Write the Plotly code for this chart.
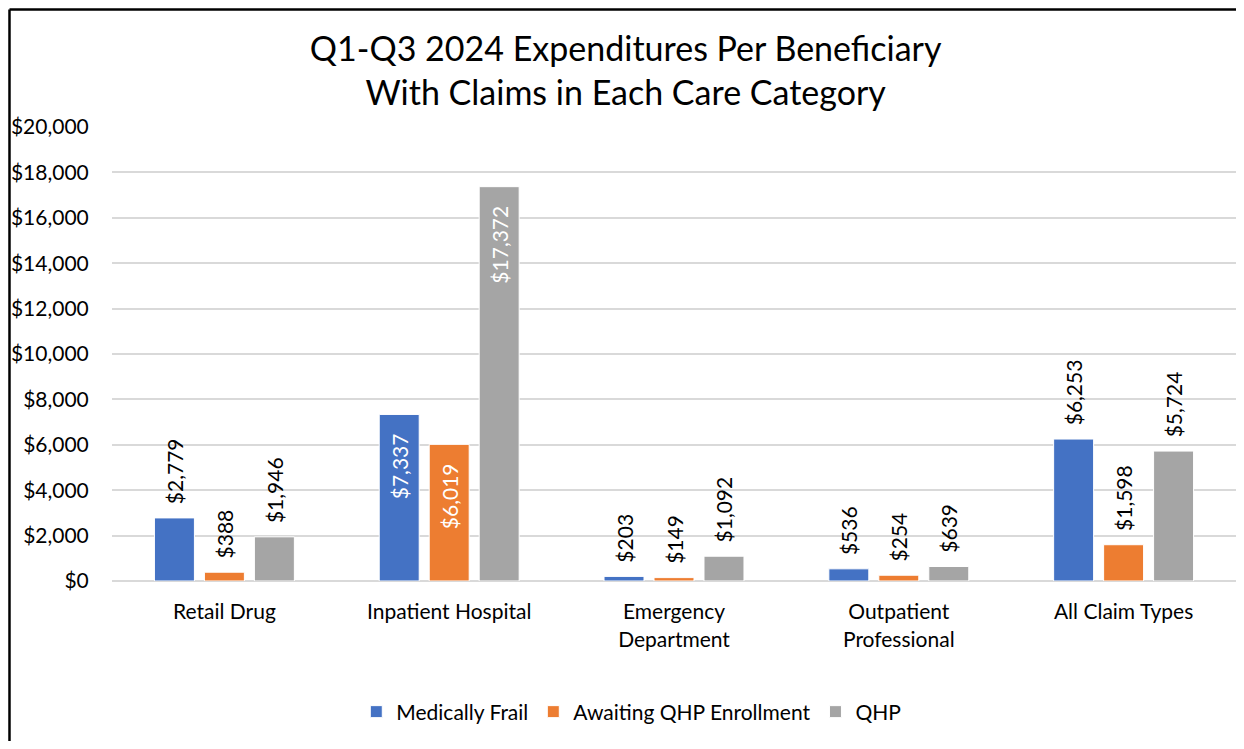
import plotly.graph_objects as go

# ── Data ──────────────────────────────────────────────────────────────────────
categories = ["Retail Drug", "Inpatient Hospital", "Emergency<br>Department",
              "Outpatient<br>Professional", "All Claim Types"]

medically_frail = [2779, 7337, 203, 536, 6253]
awaiting_qhp    = [388, 6019, 149, 254, 1598]
qhp             = [1946, 17372, 1092, 639, 5724]

series_names = ["Medically Frail", "Awaiting QHP Enrollment", "QHP"]
y_ticks = [0, 2000, 4000, 6000, 8000, 10000, 12000, 14000, 16000, 18000, 20000]
y_tick_labels = [f"${v:,}" for v in y_ticks]

# ── Style ─────────────────────────────────────────────────────────────────────
COLOURS = ["#4472C4", "#ED7D31", "#A5A5A5"]
FONT = "Lato, Carlito, Calibri, sans-serif"
GRID = "#d9d9d9"
FS = 21
NBSP = "\u00a0"

# plot-area margins (page body adds ~8px around the figure)
L, R, T, B = 104, 0, 119, 160

fig = go.Figure()

for name, vals, col in zip(series_names, [medically_frail, awaiting_qhp, qhp], COLOURS):
    # Inpatient Hospital bars carry their labels inside, in white
    inside = [c == "Inpatient Hospital" for c in categories]
    labels = [f"${v:,}" + NBSP * 3 if ins else NBSP * 2 + f"${v:,}"
              for v, ins in zip(vals, inside)]
    fig.add_trace(go.Bar(
        name=name,
        x=categories,
        y=vals,
        marker=dict(color=col, line=dict(color="white", width=1)),
        text=labels,
        textposition=["inside" if ins else "outside" for ins in inside],
        textangle=-90,
        insidetextanchor="end",
        insidetextfont=dict(color="white", size=FS, family=FONT),
        outsidetextfont=dict(color="black", size=FS, family=FONT),
        constraintext="none",
        cliponaxis=False,
    ))

# chart frame (left + top edge, like the pasted Excel object)
fig.add_shape(type="line", xref="paper", yref="paper",
              x0=-0.0912, x1=-0.0912, y0=-0.40, y1=1.2588,
              line=dict(color="black", width=2.5))
fig.add_shape(type="line", xref="paper", yref="paper",
              x0=-0.0912, x1=1.01, y0=1.2588, y1=1.2588,
              line=dict(color="black", width=2.5))

fig.update_layout(
    title=dict(
        text="Q1-Q3 2024 Expenditures Per Beneficiary<br>With Claims in Each Care Category",
        x=0.503, xanchor="center", y=0.928, yanchor="middle",
        font=dict(size=34, family=FONT, color="black"),
    ),
    barmode="group",
    bargap=0.333,
    bargroupgap=0.2,
    xaxis=dict(
        showgrid=False,
        showline=False,
        ticks="outside",
        ticklen=12,
        tickcolor="white",
        tickfont=dict(size=FS, family=FONT, color="black"),
    ),
    yaxis=dict(
        range=[0, 20000],
        tickvals=y_ticks,
        ticktext=y_tick_labels,
        showgrid=True,
        gridcolor=GRID,
        gridwidth=1.5,
        zeroline=True,
        zerolinecolor=GRID,
        zerolinewidth=1.5,
        ticks="outside",
        ticklen=18,
        tickcolor="white",
        tickfont=dict(size=FS, family=FONT, color="black"),
    ),
    legend=dict(
        orientation="h",
        x=0.462, xanchor="center",
        y=-0.2885, yanchor="middle",
        font=dict(size=FS, family=FONT, color="black"),
        itemwidth=30,
        traceorder="normal",
    ),
    plot_bgcolor="white",
    paper_bgcolor="white",
    margin=dict(l=L, r=R, t=T, b=B),
)

fig.write_html("out.html")
